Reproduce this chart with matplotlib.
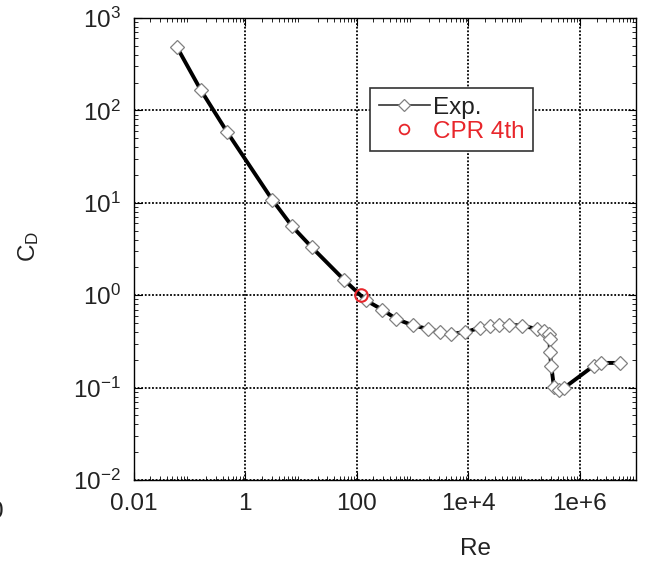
import matplotlib
matplotlib.use("Agg")
import matplotlib.pyplot as plt
from matplotlib.lines import Line2D
from matplotlib.ticker import LogLocator, NullFormatter, FixedLocator
import numpy as np

plt.rcParams['font.family'] = ['Liberation Sans', 'DejaVu Sans']
plt.rcParams['mathtext.fontset'] = 'custom'
plt.rcParams['mathtext.rm'] = 'Liberation Sans'
plt.rcParams['mathtext.it'] = 'Liberation Sans'

# experimental drag curve for a sphere
re_exp = [0.06, 0.16, 0.48, 3.07, 7.0, 15.8, 59.4, 147, 289, 516, 1011, 1914,
          3185, 4955, 8950, 1.6e4, 2.51e4, 3.54e4, 5.5e4, 9.4e4, 1.68e5, 2.28e5,
          2.8e5, 2.88e5, 2.92e5, 3.09e5, 3.44e5, 4.24e5, 5.2e5, 1.8e6, 2.37e6, 5.27e6]
cd_exp = [485, 167, 58, 10.8, 5.55, 3.29, 1.47, 0.88, 0.697, 0.553, 0.472, 0.431,
          0.40, 0.381, 0.40, 0.442, 0.468, 0.48, 0.48, 0.468, 0.431, 0.406,
          0.381, 0.336, 0.241, 0.173, 0.102, 0.095, 0.099, 0.173, 0.185, 0.185]

# CPR 4th order result
re_cpr = [121]
cd_cpr = [1.0]

x_ticks = [1e-2, 1, 1e2, 1e4, 1e6]
x_labels = ["0.01", "1", "100", "1e+4", "1e+6"]
y_ticks = [1e-2, 1e-1, 1e0, 1e1, 1e2, 1e3]
y_labels = [r"$10^{-2}$", r"$10^{-1}$", r"$10^{0}$", r"$10^{1}$", r"$10^{2}$", r"$10^{3}$"]

red = "#e8262b"
fs = 17.5

fig = plt.figure(figsize=(6.51, 5.66), dpi=100)
ax = fig.add_axes([133.5 / 651, 1 - 480 / 566, 502 / 651, 462 / 566])

ax.plot(re_exp, cd_exp, color="black", lw=2.8, marker="D", ms=7.5,
        mfc="white", mec="#808080", mew=0.9, zorder=3)
ax.plot(re_cpr, cd_cpr, ls="none", marker="o", ms=9, mfc="none",
        mec=red, mew=1.5, zorder=4)

ax.set_xscale("log")
ax.set_yscale("log")
ax.set_xlim(1e-2, 1e7)
ax.set_ylim(1e-2, 1e3)

ax.xaxis.set_major_locator(FixedLocator(x_ticks))
ax.set_xticklabels(x_labels)
ax.yaxis.set_major_locator(FixedLocator(y_ticks))
ax.set_yticklabels(y_labels)
for axis in (ax.xaxis, ax.yaxis):
    axis.set_minor_locator(LogLocator(base=10, subs=np.arange(2, 10), numticks=20))
    axis.set_minor_formatter(NullFormatter())

ax.tick_params(which="both", direction="in", top=True, right=True,
               labelsize=fs, colors="black", labelcolor="#222222")
ax.tick_params(which="major", length=6, width=0.8, pad=9)
ax.tick_params(which="minor", length=3, width=0.6)

ax.grid(True, which="major", color="black", ls=(0, (1, 1)), lw=1.3)
ax.set_axisbelow(True)
for sp in ax.spines.values():
    sp.set_linewidth(1.0)

fig.text(29 / 651, 1 - 246 / 566, r"C$_{\rm D}$", rotation=90, ha="center",
         va="center", fontsize=fs, color="#222222")
fig.text(475 / 651, 1 - 549 / 566, "Re", ha="center", va="center",
         fontsize=fs, color="#222222")
fig.text(0.006, 1 - 512 / 566, "0", ha="right", va="center",
         fontsize=fs, color="#222222")

handles = [
    Line2D([], [], color="#333333", lw=1.2, marker="D", ms=6, mfc="white",
           mec="#808080", mew=0.9),
    Line2D([], [], ls="none", marker="o", ms=7, mfc="none", mec=red, mew=1.3),
]
leg = ax.legend(handles, ["Exp.", "CPR 4th"], loc="upper left",
                bbox_to_anchor=(370 / 651, 1 - 88 / 566),
                bbox_transform=fig.transFigure, fontsize=fs, frameon=True,
                fancybox=False, framealpha=1, edgecolor="#333333",
                handlelength=2.1, handletextpad=0.15, borderpad=0.35,
                labelspacing=0.1, borderaxespad=0)
leg.get_frame().set_linewidth(1.2)
leg.get_texts()[0].set_color("#222222")
leg.get_texts()[1].set_color(red)

fig.savefig("out.png", dpi=100)
